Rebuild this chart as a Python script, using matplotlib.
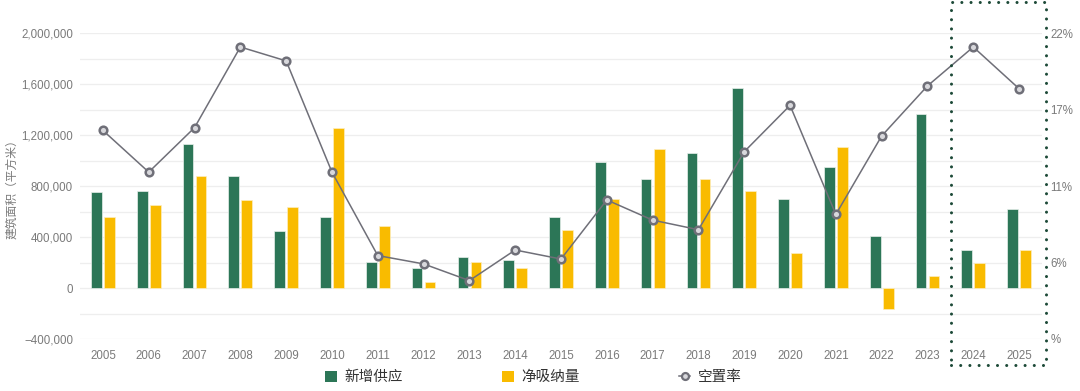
import numpy as np
import matplotlib
matplotlib.use("Agg")
from matplotlib import pyplot as plt
from matplotlib.patches import Rectangle, Patch
from matplotlib.lines import Line2D
from matplotlib.ticker import FuncFormatter, FixedLocator, FixedFormatter

plt.rcParams['font.family'] = ['Liberation Sans', 'Noto Sans CJK SC', 'DejaVu Sans']

# данные
years = [str(y) for y in range(2005, 2026)]
supply = [750000, 761000, 1129000, 875000, 449000, 554000, 201000, 157000, 245000, 222000,
          554000, 988000, 855000, 1059000, 1568000, 700000, 949000, 408000, 1364000, 300000, 619000]
absorption = [559000, 648000, 881000, 687000, 638000, 1255000, 489000, 47000, 204000, 157000,
              457000, 700000, 1092000, 852000, 761000, 274000, 1108000, -165000, 96000, 198000, 300000]
vacancy = [15.0, 12.0, 15.2, 21.0, 20.0, 12.0, 6.0, 5.4, 4.2, 6.4,
           5.75, 10.0, 8.55, 7.86, 13.47, 16.8, 8.96, 14.6, 18.2, 21.0, 18.0]
right_ticks = [0, 5.5, 11, 16.5, 22]
right_labels = ['%', '6%', '11%', '17%', '22%']

green = '#2c7657'
yellow = '#f9bb00'
gray_line = '#6f6f78'
txt = '#7a7a7a'

fig = plt.figure(figsize=(10.8, 3.91), dpi=100)
ax = fig.add_axes([0.0741, 0.133, 0.8907, 0.7824])

x = np.arange(len(years))
w = 0.235
ax.bar(x - 0.142, supply, width=w, color=green, edgecolor='#e8f0ec', linewidth=0.5, zorder=3)
ax.bar(x + 0.142, absorption, width=w, color=yellow, edgecolor='#fdeec0', linewidth=0.5, zorder=3)

ax.set_xlim(-0.5, len(years) - 0.5)
ax.set_ylim(-400000, 2000000)
ax.set_yticks(np.arange(-400000, 2000001, 400000))
ax.set_yticks(np.arange(-400000, 2000001, 200000), minor=True)
ax.yaxis.set_major_formatter(FuncFormatter(lambda v, p: f'{int(v):,}'.replace('-', '−')))
ax.grid(axis='y', which='both', color='#eeeeee', linewidth=0.9, zorder=0)
ax.set_xticks(x)
ax.set_xticklabels(years)
ax.tick_params(axis='both', which='both', length=0, labelsize=8.3, colors=txt)
ax.tick_params(axis='y', pad=5)
ax.tick_params(axis='x', pad=8)
for s in ax.spines.values():
    s.set_visible(False)
ax.set_ylabel('建筑面积（平方米）', fontsize=8.5, color=txt)
ax.yaxis.set_label_coords(-0.064, 0.5)

ax2 = ax.twinx()
ax2.plot(x, vacancy, color=gray_line, linewidth=1.1, marker='o', markersize=5.5,
         markerfacecolor='#d8d8dc', markeredgecolor=gray_line, markeredgewidth=1.8, zorder=5)
ax2.set_ylim(0, 22)
ax2.yaxis.set_major_locator(FixedLocator(right_ticks))
ax2.yaxis.set_major_formatter(FixedFormatter(right_labels))
ax2.tick_params(axis='y', length=0, labelsize=8.3, colors=txt, pad=6)
for s in ax2.spines.values():
    s.set_visible(False)

# пунктирная рамка вокруг 2024-2025
box = Rectangle((0.8806, 0.0665), 0.0875, 0.928, transform=fig.transFigure, fill=False,
                edgecolor='#1d4a38', linewidth=2.2, linestyle=(0, (0.01, 3.0)),
                capstyle='round', clip_on=False)
fig.patches.append(box)

handles = [Patch(facecolor=green, edgecolor='none'),
           Patch(facecolor=yellow, edgecolor='none'),
           Line2D([], [], color=gray_line, linewidth=1.1, marker='o', markersize=5,
                  markerfacecolor='#d8d8dc', markeredgecolor=gray_line, markeredgewidth=1.6)]
fig.legend(handles, ['新增供应', '净吸纳量', '空置率'], loc='center', bbox_to_anchor=(0.494, 0.035),
           ncol=3, frameon=False, fontsize=10.5, handlelength=0.8, handleheight=0.8,
           handletextpad=0.5, columnspacing=6.8, labelcolor='#333333')

fig.savefig('out.png', dpi=100)
